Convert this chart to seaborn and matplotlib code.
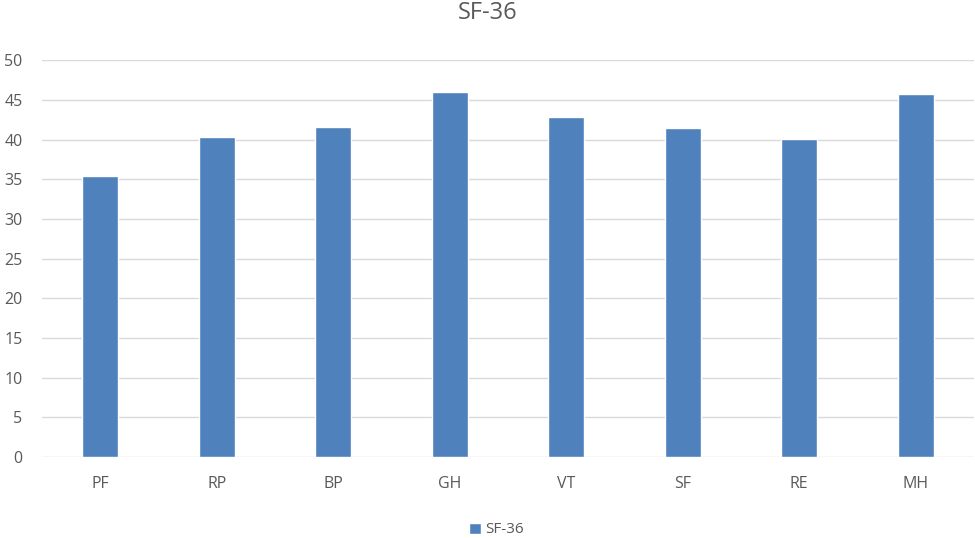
import pandas as pd
import matplotlib
matplotlib.use("Agg")
import matplotlib.pyplot as plt
import seaborn as sns

# SF-36 domain scores
domains = ["PF", "RP", "BP", "GH", "VT", "SF", "RE", "MH"]
scores = [35.4, 40.3, 41.6, 46.0, 42.8, 41.5, 40.1, 45.7]
series_name = "SF-36"

df = pd.DataFrame({"domain": domains, "score": scores, "series": series_name})

sns.set_style("white")
plt.rcParams["font.family"] = ["Open Sans", "DejaVu Sans"]

fig = plt.figure(figsize=(9.75, 5.38), dpi=100)
ax = fig.add_axes([0.043, 0.1506, 0.956, 0.7375])

sns.barplot(data=df, x="domain", y="score", hue="series", palette=["#4F81BD"],
            width=0.31, saturation=1, ax=ax, legend=True)

ax.set_ylim(0, 50)
ax.set_yticks(range(0, 51, 5))
ax.yaxis.grid(True, color="#d9d9d9", linewidth=1)
ax.set_axisbelow(True)
for s in ax.spines.values():
    s.set_visible(False)
ax.tick_params(axis="both", length=0, labelsize=11.5, colors="#595959")
ax.tick_params(axis="x", pad=14)
ax.tick_params(axis="y", pad=14)
ax.set_xlabel("")
ax.set_ylabel("")
ax.set_xlim(-0.5, len(domains) - 0.5)

fig.text(0.5, 0.976, "SF-36", ha="center", va="center", fontsize=17, color="#595959")

leg = ax.legend(loc="center", bbox_to_anchor=(0.488, -0.184), frameon=False,
                fontsize=11, handlelength=0.75, handleheight=0.75, handletextpad=0.3,
                labelcolor="#595959")

fig.savefig("out.png", dpi=100)
